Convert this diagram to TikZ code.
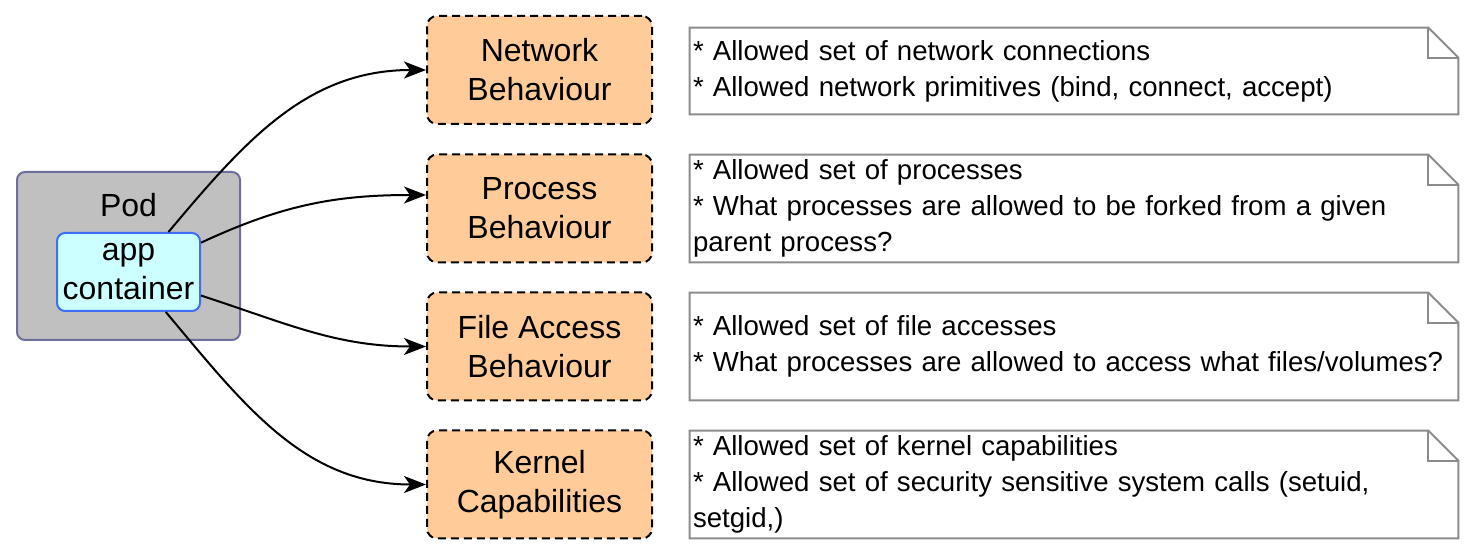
\documentclass[tikz,border=0pt]{standalone}
\usepackage{fontspec}
\setmainfont{Liberation Sans}
\usetikzlibrary{arrows.meta,calc}
\definecolor{podfill}{HTML}{C0C0C0}
\definecolor{poddraw}{HTML}{6E6E9E}
\definecolor{appfill}{HTML}{CCFFFF}
\definecolor{appdraw}{HTML}{3D6EF5}
\definecolor{boxfill}{HTML}{FFCC99}
\definecolor{notedraw}{HTML}{8C8C8C}
\begin{document}
\begin{tikzpicture}[x=0.5pt,y=-0.5pt,
  bigfont/.style={font=\fontsize{16}{19.5}\selectfont},
  podbox/.style={draw=poddraw,fill=podfill,line width=1pt,rounded corners=4pt,minimum width=111.5pt,minimum height=84pt,inner sep=0pt},
  appbox/.style={draw=appdraw,fill=appfill,line width=1pt,rounded corners=4pt,minimum width=71.5pt,minimum height=39pt,inner sep=0pt,align=center,bigfont},
  behbox/.style={draw=black,fill=boxfill,line width=1pt,dash pattern=on 4pt off 2.5pt,rounded corners=5pt,minimum width=112.5pt,minimum height=54pt,inner sep=0pt,align=center,bigfont},
  notebox/.style={minimum width=384pt,inner xsep=1.5pt,inner ysep=0pt,text width=381pt,align=left,font=\fontsize{13.8}{18}\selectfont},
  noteline/.style={draw=notedraw,line width=1pt},
  conn/.style={draw=black,line width=1pt,-{Stealth[length=11pt,width=8.5pt,inset=3pt]}},
  lbl/.style={bigfont,inner sep=0pt}
]
\useasboundingbox (0,0) rectangle (1474,560);
\node[podbox] (pod) at (128.5,256) {};
\node[lbl] (podlbl) at (128.5,205) {Pod};
\node[appbox] (app) at (128.5,272) {app\\container};

\node[behbox] (b1) at (539.5,70) {Network\\Behaviour};
\node[behbox] (b2) at (539.5,208.5) {Process\\Behaviour};
\node[behbox] (b3) at (539.5,346.5) {File Access\\Behaviour};
\node[behbox] (b4) at (539.5,484.5) {Kernel\\Capabilities};

\node[notebox,minimum height=43pt] (n1) at (1074,71) {{*} Allowed set of network connections\\{*} Allowed network primitives (bind, connect, accept)};
\node[notebox,minimum height=53.5pt] (n2) at (1074,208.5) {{*} Allowed set of processes\\{*} What processes are allowed to be forked from a given\\parent process?};
\node[notebox,minimum height=53.5pt] (n3) at (1074,346.5) {{*} Allowed set of file accesses\\{*} What processes are allowed to access what files/volumes?};
\node[notebox,minimum height=53.5pt] (n4) at (1074,484.5) {{*} Allowed set of kernel capabilities\\{*} Allowed set of security sensitive system calls (setuid,\\setgid,)};

\foreach \n in {n1,n2,n3,n4} {
  \draw[noteline] (\n.north west) -- ($(\n.north east)+(-30,0)$) -- ($(\n.north east)+(0,30)$) -- (\n.south east) -- (\n.south west) -- cycle;
  \draw[noteline] ($(\n.north east)+(-30,0)$) -- ($(\n.north east)+(-30,30)$) -- ($(\n.north east)+(0,30)$);
}

\draw[conn] (app.45) to[out=50,in=180] (b1.west);
\draw[conn] (app.22) to[out=25,in=180] ([yshift=6.75pt]b2.west);
\draw[conn] (app.-18) to[out=-18,in=180] (b3.west);
\draw[conn] (app.-47) to[out=-50,in=180] (b4.west);
\end{tikzpicture}
\end{document}
